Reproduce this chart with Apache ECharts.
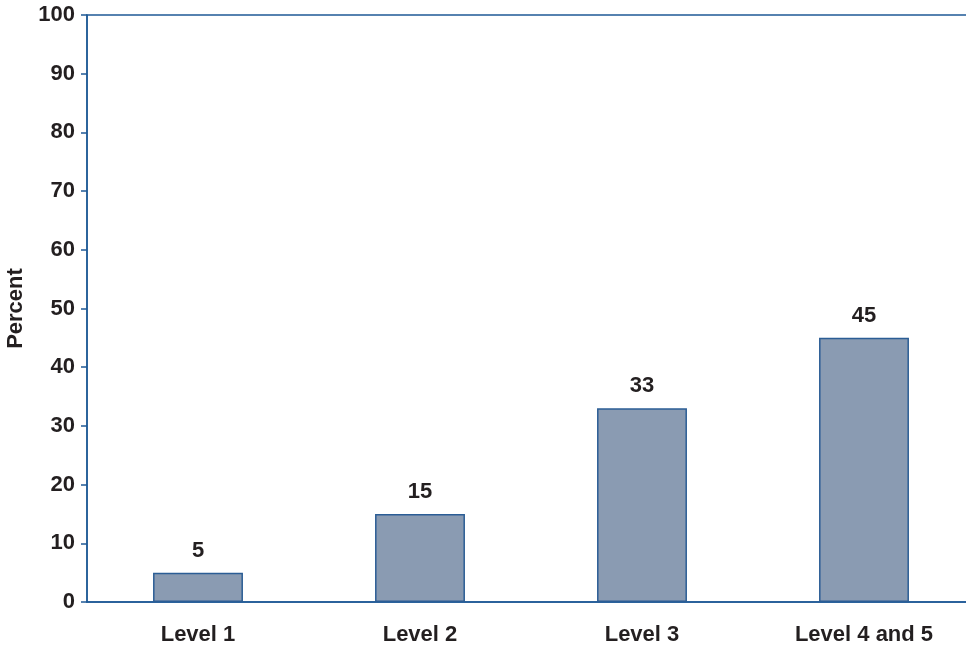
<!DOCTYPE html>
<html>
<head>
<meta charset="utf-8">
<script src="https://cdn.jsdelivr.net/npm/echarts@6/dist/echarts.min.js"></script>
<style>
  html, body { margin: 0; padding: 0; background: #fff; }
  #chart { width: 966px; height: 649px; }
</style>
</head>
<body>
<div id="chart"></div>
<script>
const categories = ['Level 1', 'Level 2', 'Level 3', 'Level 4 and 5']
const percents = [5, 15, 33, 45]

const axisBlue = '#1f5a96'
const textColor = '#231f20'
const fontFamily = '"Liberation Sans", Arial, Helvetica, sans-serif'

const chart = echarts.init(document.getElementById('chart'))

chart.setOption({
  animation: false,
  grid: {
    left: 87,
    right: -9,
    top: 15,
    bottom: 47,
    containLabel: false,
    outerBoundsMode: 'none',
    show: true,
    borderColor: axisBlue,
    borderWidth: 1.5
  },
  xAxis: {
    type: 'category',
    data: categories,
    axisLine: { lineStyle: { color: axisBlue, width: 1.5 } },
    axisTick: { show: false },
    axisLabel: {
      color: textColor,
      fontFamily: fontFamily,
      fontWeight: 'bold',
      fontSize: 22,
      margin: 22
    }
  },
  yAxis: {
    type: 'value',
    min: 0,
    max: 100,
    interval: 10,
    name: 'Percent',
    nameLocation: 'middle',
    nameGap: 59,
    nameTextStyle: {
      color: textColor,
      fontFamily: fontFamily,
      fontWeight: 'bold',
      fontSize: 22
    },
    axisLine: { show: true, lineStyle: { color: axisBlue, width: 1.5 } },
    axisTick: { show: true, inside: false, length: 6, lineStyle: { color: axisBlue, width: 1.5 } },
    splitLine: { show: false },
    axisLabel: {
      color: textColor,
      fontFamily: fontFamily,
      fontWeight: 'bold',
      fontSize: 22,
      margin: 12
    }
  },
  series: [
    {
      type: 'bar',
      data: percents,
      barWidth: '40.5%',
      itemStyle: {
        color: '#8a9bb2',
        borderColor: '#2b5d95',
        borderWidth: 1.5
      },
      label: {
        show: true,
        position: 'top',
        distance: 11,
        color: textColor,
        fontFamily: fontFamily,
        fontWeight: 'bold',
        fontSize: 22
      }
    }
  ]
})
</script>
</body>
</html>
